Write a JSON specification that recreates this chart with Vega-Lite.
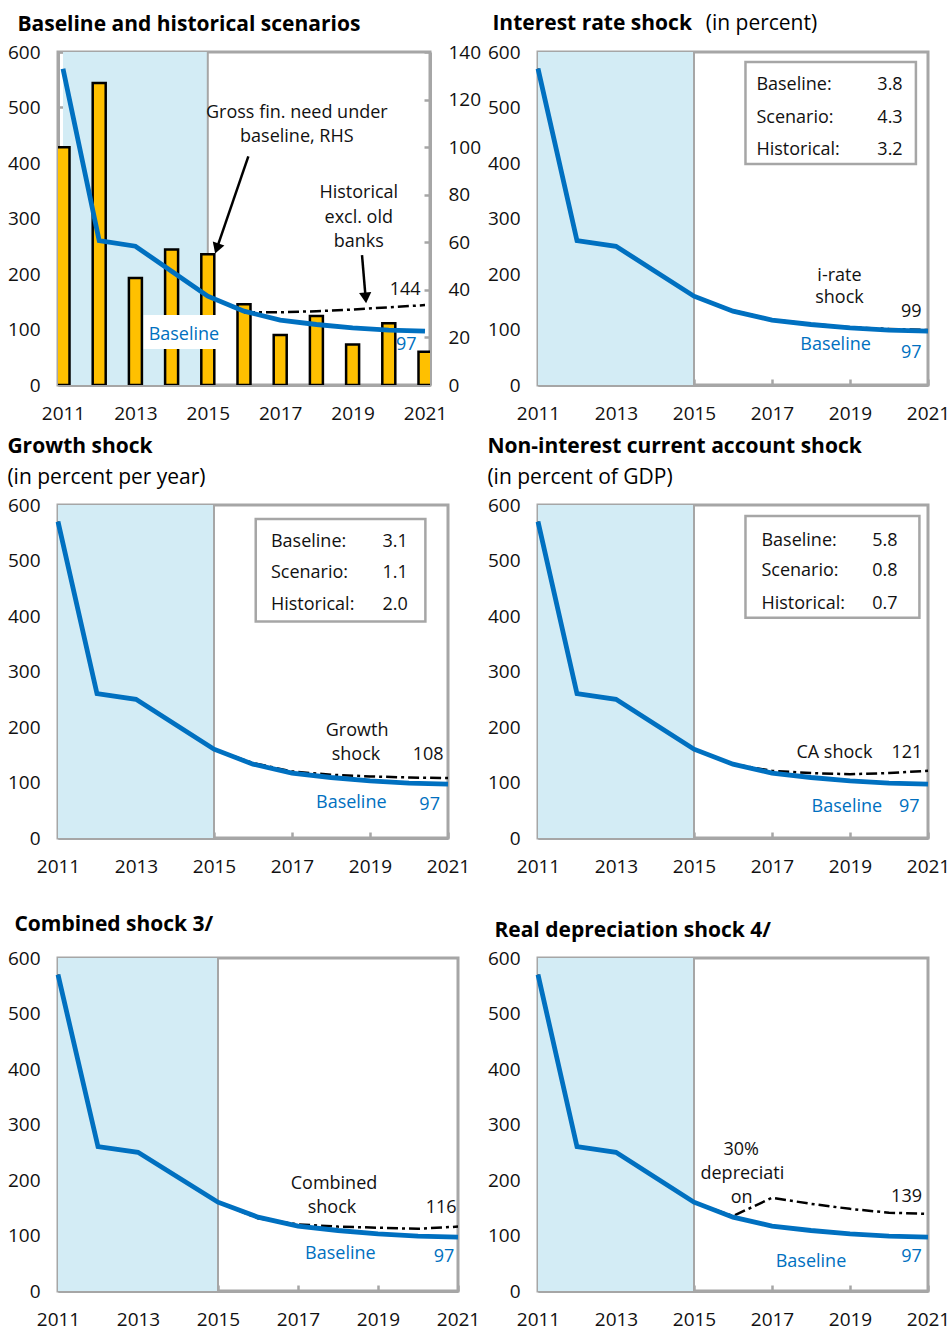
{
  "$schema": "https://vega.github.io/schema/vega-lite/v6.json",
  "background": "white",
  "padding": {"left": 5, "top": 11, "right": 2, "bottom": 5},
  "config": {
    "font": "Open Sans",
    "view": {"stroke": "#A6A6A6", "strokeWidth": 3},
    "axis": {"grid": false, "domain": true, "domainColor": "#A6A6A6", "domainWidth": 3, "tickColor": "#A6A6A6", "tickWidth": 2.5, "tickSize": -6, "labelFontSize": 19, "labelFont": "Open Sans", "labelColor": "#111111", "zindex": 1},
    "axisY": {"labelPadding": 24},
    "axisX": {"labelPadding": 25, "labelFlush": false},
    "title": {"anchor": "start", "frame": "bounds", "font": "Open Sans", "fontSize": 21, "fontWeight": "bold", "color": "#000000", "subtitleFont": "Open Sans", "subtitleFontSize": 21, "subtitleFontWeight": "normal", "subtitleColor": "#000000", "offset": 8},
    "text": {"font": "Open Sans", "fontSize": 18}
  },
  "datasets": {
    "base": [
      {"year": 2011, "value": 570}, {"year": 2012, "value": 260}, {"year": 2013, "value": 250}, {"year": 2014, "value": 205}, {"year": 2015, "value": 160}, {"year": 2016, "value": 133}, {"year": 2017, "value": 117}, {"year": 2018, "value": 109}, {"year": 2019, "value": 103}, {"year": 2020, "value": 99}, {"year": 2021, "value": 97}
    ],
    "gfn": [
      {"year": 2011, "value": 100}, {"year": 2012, "value": 127}, {"year": 2013, "value": 45}, {"year": 2014, "value": 57}, {"year": 2015, "value": 55}, {"year": 2016, "value": 34}, {"year": 2017, "value": 21}, {"year": 2018, "value": 29}, {"year": 2019, "value": 17}, {"year": 2020, "value": 26}, {"year": 2021, "value": 14}
    ],
    "scen": [
      {"panel": "p1", "year": 2016, "value": 131}, {"panel": "p1", "year": 2017, "value": 131}, {"panel": "p1", "year": 2018, "value": 133}, {"panel": "p1", "year": 2019, "value": 136}, {"panel": "p1", "year": 2020, "value": 140}, {"panel": "p1", "year": 2021, "value": 144},
      {"panel": "p2", "year": 2011, "value": 570}, {"panel": "p2", "year": 2012, "value": 260}, {"panel": "p2", "year": 2013, "value": 250}, {"panel": "p2", "year": 2014, "value": 205}, {"panel": "p2", "year": 2015, "value": 160}, {"panel": "p2", "year": 2016, "value": 134}, {"panel": "p2", "year": 2017, "value": 118}, {"panel": "p2", "year": 2018, "value": 110}, {"panel": "p2", "year": 2019, "value": 104}, {"panel": "p2", "year": 2020, "value": 101}, {"panel": "p2", "year": 2021, "value": 99},
      {"panel": "p3", "year": 2011, "value": 570}, {"panel": "p3", "year": 2012, "value": 260}, {"panel": "p3", "year": 2013, "value": 250}, {"panel": "p3", "year": 2014, "value": 205}, {"panel": "p3", "year": 2015, "value": 160}, {"panel": "p3", "year": 2016, "value": 135}, {"panel": "p3", "year": 2017, "value": 120}, {"panel": "p3", "year": 2018, "value": 114}, {"panel": "p3", "year": 2019, "value": 111}, {"panel": "p3", "year": 2020, "value": 109}, {"panel": "p3", "year": 2021, "value": 108},
      {"panel": "p4", "year": 2011, "value": 570}, {"panel": "p4", "year": 2012, "value": 260}, {"panel": "p4", "year": 2013, "value": 250}, {"panel": "p4", "year": 2014, "value": 205}, {"panel": "p4", "year": 2015, "value": 160}, {"panel": "p4", "year": 2016, "value": 133}, {"panel": "p4", "year": 2017, "value": 121}, {"panel": "p4", "year": 2018, "value": 117}, {"panel": "p4", "year": 2019, "value": 115}, {"panel": "p4", "year": 2020, "value": 117}, {"panel": "p4", "year": 2021, "value": 121},
      {"panel": "p5", "year": 2011, "value": 570}, {"panel": "p5", "year": 2012, "value": 260}, {"panel": "p5", "year": 2013, "value": 250}, {"panel": "p5", "year": 2014, "value": 205}, {"panel": "p5", "year": 2015, "value": 160}, {"panel": "p5", "year": 2016, "value": 131}, {"panel": "p5", "year": 2017, "value": 120}, {"panel": "p5", "year": 2018, "value": 116}, {"panel": "p5", "year": 2019, "value": 114}, {"panel": "p5", "year": 2020, "value": 112}, {"panel": "p5", "year": 2021, "value": 116},
      {"panel": "p6", "year": 2011, "value": 570}, {"panel": "p6", "year": 2012, "value": 260}, {"panel": "p6", "year": 2013, "value": 250}, {"panel": "p6", "year": 2014, "value": 205}, {"panel": "p6", "year": 2015, "value": 160}, {"panel": "p6", "year": 2016, "value": 135}, {"panel": "p6", "year": 2017, "value": 168}, {"panel": "p6", "year": 2018, "value": 157}, {"panel": "p6", "year": 2019, "value": 148}, {"panel": "p6", "year": 2020, "value": 141}, {"panel": "p6", "year": 2021, "value": 139}
    ],
    "notes": [
      {"panel": "p1", "year": 2017.46, "value": 490, "label": "Gross fin. need under", "tone": "dark"},
      {"panel": "p1", "year": 2017.46, "value": 447, "label": "baseline, RHS", "tone": "dark"},
      {"panel": "p1", "year": 2019.17, "value": 346, "label": "Historical", "tone": "dark"},
      {"panel": "p1", "year": 2019.17, "value": 301, "label": "excl. old", "tone": "dark"},
      {"panel": "p1", "year": 2019.17, "value": 258, "label": "banks", "tone": "dark"},
      {"panel": "p1", "year": 2020.45, "value": 171, "label": "144", "tone": "dark"},
      {"panel": "p1", "year": 2014.34, "value": 90, "label": "Baseline", "tone": "blue"},
      {"panel": "p1", "year": 2020.48, "value": 72, "label": "97", "tone": "blue"},
      {"panel": "p2", "year": 2018.73, "value": 197, "label": "i-rate", "tone": "dark"},
      {"panel": "p2", "year": 2018.73, "value": 156, "label": "shock", "tone": "dark"},
      {"panel": "p2", "year": 2020.57, "value": 131, "label": "99", "tone": "dark"},
      {"panel": "p2", "year": 2018.63, "value": 72, "label": "Baseline", "tone": "blue"},
      {"panel": "p2", "year": 2020.57, "value": 58, "label": "97", "tone": "blue"},
      {"panel": "p3", "year": 2018.67, "value": 193, "label": "Growth", "tone": "dark"},
      {"panel": "p3", "year": 2018.64, "value": 150, "label": "shock", "tone": "dark"},
      {"panel": "p3", "year": 2020.49, "value": 150, "label": "108", "tone": "dark"},
      {"panel": "p3", "year": 2018.52, "value": 63, "label": "Baseline", "tone": "blue"},
      {"panel": "p3", "year": 2020.53, "value": 59, "label": "97", "tone": "blue"},
      {"panel": "p4", "year": 2018.6, "value": 153, "label": "CA shock", "tone": "dark"},
      {"panel": "p4", "year": 2020.46, "value": 153, "label": "121", "tone": "dark"},
      {"panel": "p4", "year": 2018.92, "value": 56, "label": "Baseline", "tone": "blue"},
      {"panel": "p4", "year": 2020.52, "value": 56, "label": "97", "tone": "blue"},
      {"panel": "p5", "year": 2017.9, "value": 193, "label": "Combined", "tone": "dark"},
      {"panel": "p5", "year": 2017.85, "value": 149, "label": "shock", "tone": "dark"},
      {"panel": "p5", "year": 2020.58, "value": 149, "label": "116", "tone": "dark"},
      {"panel": "p5", "year": 2018.06, "value": 66, "label": "Baseline", "tone": "blue"},
      {"panel": "p5", "year": 2020.65, "value": 61, "label": "97", "tone": "blue"},
      {"panel": "p6", "year": 2016.21, "value": 254, "label": "30%", "tone": "dark"},
      {"panel": "p6", "year": 2016.24, "value": 211, "label": "depreciati", "tone": "dark"},
      {"panel": "p6", "year": 2016.22, "value": 167, "label": "on", "tone": "dark"},
      {"panel": "p6", "year": 2020.45, "value": 170, "label": "139", "tone": "dark"},
      {"panel": "p6", "year": 2018.0, "value": 53, "label": "Baseline", "tone": "blue"},
      {"panel": "p6", "year": 2020.58, "value": 61, "label": "97", "tone": "blue"}
    ],
    "boxtext": [
      {"panel": "p2", "side": "label", "year": 2016.6, "value": 540, "label": "Baseline:"},
      {"panel": "p2", "side": "label", "year": 2016.6, "value": 481, "label": "Scenario:"},
      {"panel": "p2", "side": "label", "year": 2016.6, "value": 424, "label": "Historical:"},
      {"panel": "p2", "side": "value", "year": 2020.35, "value": 540, "label": "3.8"},
      {"panel": "p2", "side": "value", "year": 2020.35, "value": 481, "label": "4.3"},
      {"panel": "p2", "side": "value", "year": 2020.35, "value": 424, "label": "3.2"},
      {"panel": "p3", "side": "label", "year": 2016.46, "value": 533, "label": "Baseline:"},
      {"panel": "p3", "side": "label", "year": 2016.46, "value": 477, "label": "Scenario:"},
      {"panel": "p3", "side": "label", "year": 2016.46, "value": 420, "label": "Historical:"},
      {"panel": "p3", "side": "value", "year": 2019.97, "value": 533, "label": "3.1"},
      {"panel": "p3", "side": "value", "year": 2019.97, "value": 477, "label": "1.1"},
      {"panel": "p3", "side": "value", "year": 2019.97, "value": 420, "label": "2.0"},
      {"panel": "p4", "side": "label", "year": 2016.73, "value": 536, "label": "Baseline:"},
      {"panel": "p4", "side": "label", "year": 2016.73, "value": 481, "label": "Scenario:"},
      {"panel": "p4", "side": "label", "year": 2016.73, "value": 421, "label": "Historical:"},
      {"panel": "p4", "side": "value", "year": 2020.22, "value": 536, "label": "5.8"},
      {"panel": "p4", "side": "value", "year": 2020.22, "value": 481, "label": "0.8"},
      {"panel": "p4", "side": "value", "year": 2020.22, "value": 421, "label": "0.7"}
    ],
    "headnote": [
      {"panel": "p2", "year": 2015.3, "value": 650, "label": "(in percent)"}
    ],
    "frames": [
      {"panel": "p1", "year": 2013.23, "year2": 2015.28, "value": 65, "value2": 126},
      {"panel": "p2", "year": 2016.32, "year2": 2020.69, "value": 398, "value2": 582},
      {"panel": "p3", "year": 2016.07, "year2": 2020.42, "value": 390, "value2": 575},
      {"panel": "p4", "year": 2016.32, "year2": 2020.78, "value": 397, "value2": 580}
    ],
    "arrows": [
      {"year": 2016.12, "value": 412, "year2": 2015.25, "value2": 246, "angle": 19},
      {"year": 2019.26, "value": 234, "year2": 2019.36, "value2": 157, "angle": -5}
    ]
  },
  "hconcat": [
    {
      "vconcat": [
        {
          "width": 372, "height": 333,
          "title": {"text": "Baseline and historical scenarios", "dx": 10},
          "layer": [
            {
              "layer": [
                {"data": {"values": [{}]}, "mark": {"type": "rect", "color": "#D3ECF5"}, "encoding": {"x": {"datum": 2011, "type": "quantitative", "scale": {"domain": [2011, 2021], "nice": false, "zero": false}, "axis": {"title": null, "values": [2011, 2012, 2013, 2014, 2015, 2016, 2017, 2018, 2019, 2020, 2021], "format": "d", "labelExpr": "datum.value % 2 == 1 ? datum.label : ''"}}, "x2": {"datum": 2015}}},
                {"data": {"values": [{}]}, "mark": {"type": "rule", "color": "#A6A6A6", "strokeWidth": 2}, "encoding": {"x": {"datum": 2015, "type": "quantitative"}}},
                {"data": {"name": "gfn"}, "mark": {"type": "bar", "color": "#FFC000", "stroke": "#000000", "strokeWidth": 2.5, "size": 13, "clip": true}, "encoding": {"x": {"field": "year", "type": "quantitative"}, "y": {"field": "value", "type": "quantitative", "scale": {"domain": [0, 140], "nice": false}, "axis": {"title": null, "orient": "right", "values": [0, 20, 40, 60, 80, 100, 120, 140]}}}}
              ]
            },
            {
              "layer": [
                {"data": {"name": "frames"}, "transform": [{"filter": "datum.panel == 'p1'"}], "mark": {"type": "rect", "color": "#FFFFFF"}, "encoding": {"x": {"field": "year", "type": "quantitative"}, "x2": {"field": "year2"}, "y": {"field": "value", "type": "quantitative", "scale": {"domain": [0, 600], "nice": false}, "axis": {"title": null, "values": [0, 100, 200, 300, 400, 500, 600]}}, "y2": {"field": "value2"}}},
                {"data": {"name": "scen"}, "transform": [{"filter": "datum.panel == 'p1'"}], "mark": {"type": "line", "color": "#000000", "strokeWidth": 2.5, "strokeDash": [11, 4, 3, 4]}, "encoding": {"x": {"field": "year", "type": "quantitative"}, "y": {"field": "value", "type": "quantitative"}}},
                {"data": {"name": "base"}, "mark": {"type": "line", "color": "#0070C0", "strokeWidth": 4.8}, "encoding": {"x": {"field": "year", "type": "quantitative"}, "y": {"field": "value", "type": "quantitative"}}},
                {"data": {"name": "notes"}, "transform": [{"filter": "datum.panel == 'p1'"}], "mark": {"type": "text", "align": "center", "baseline": "middle", "fontSize": 18}, "encoding": {"x": {"field": "year", "type": "quantitative"}, "y": {"field": "value", "type": "quantitative"}, "text": {"field": "label"}, "color": {"field": "tone", "type": "nominal", "scale": {"domain": ["dark", "blue"], "range": ["#111111", "#0070C0"]}, "legend": null}}},
                {"data": {"name": "arrows"}, "mark": {"type": "rule", "color": "#000000", "strokeWidth": 2.5}, "encoding": {"x": {"field": "year", "type": "quantitative"}, "y": {"field": "value", "type": "quantitative"}, "x2": {"field": "year2"}, "y2": {"field": "value2"}}},
                {"data": {"name": "arrows"}, "mark": {"type": "point", "shape": "triangle-down", "filled": true, "color": "#000000", "size": 150, "opacity": 1}, "encoding": {"x": {"field": "year2", "type": "quantitative"}, "y": {"field": "value2", "type": "quantitative"}, "angle": {"field": "angle", "type": "quantitative", "scale": null}}}
              ]
            }
          ],
          "resolve": {"scale": {"y": "independent"}}
        },
        {
          "width": 390, "height": 333,
          "title": {"text": "Growth shock", "subtitle": "(in percent per year)", "subtitlePadding": 10},
          "layer": [
            {"data": {"values": [{}]}, "mark": {"type": "rect", "color": "#D3ECF5"}, "encoding": {"x": {"datum": 2011, "type": "quantitative", "scale": {"domain": [2011, 2021], "nice": false, "zero": false}, "axis": {"title": null, "values": [2011, 2013, 2015, 2017, 2019, 2021], "format": "d"}}, "x2": {"datum": 2015}}},
            {"data": {"values": [{}]}, "mark": {"type": "rule", "color": "#A6A6A6", "strokeWidth": 2}, "encoding": {"x": {"datum": 2015, "type": "quantitative"}}},
            {"data": {"name": "frames"}, "transform": [{"filter": "datum.panel == 'p3'"}], "mark": {"type": "rect", "fill": "#FFFFFF", "stroke": "#A6A6A6", "strokeWidth": 2.5}, "encoding": {"x": {"field": "year", "type": "quantitative"}, "x2": {"field": "year2"}, "y": {"field": "value", "type": "quantitative", "scale": {"domain": [0, 600], "nice": false}, "axis": {"title": null, "values": [0, 100, 200, 300, 400, 500, 600]}}, "y2": {"field": "value2"}}},
            {"data": {"name": "scen"}, "transform": [{"filter": "datum.panel == 'p3'"}], "mark": {"type": "line", "color": "#000000", "strokeWidth": 2.5, "strokeDash": [11, 4, 3, 4]}, "encoding": {"x": {"field": "year", "type": "quantitative"}, "y": {"field": "value", "type": "quantitative"}}},
            {"data": {"name": "base"}, "mark": {"type": "line", "color": "#0070C0", "strokeWidth": 4.8}, "encoding": {"x": {"field": "year", "type": "quantitative"}, "y": {"field": "value", "type": "quantitative"}}},
            {"data": {"name": "notes"}, "transform": [{"filter": "datum.panel == 'p3'"}], "mark": {"type": "text", "align": "center", "baseline": "middle", "fontSize": 18}, "encoding": {"x": {"field": "year", "type": "quantitative"}, "y": {"field": "value", "type": "quantitative"}, "text": {"field": "label"}, "color": {"field": "tone", "type": "nominal", "scale": {"domain": ["dark", "blue"], "range": ["#111111", "#0070C0"]}, "legend": null}}},
            {"data": {"name": "boxtext"}, "transform": [{"filter": "datum.panel == 'p3' && datum.side == 'label'"}], "mark": {"type": "text", "align": "left", "baseline": "middle", "fontSize": 18, "color": "#111111"}, "encoding": {"x": {"field": "year", "type": "quantitative"}, "y": {"field": "value", "type": "quantitative"}, "text": {"field": "label"}}},
            {"data": {"name": "boxtext"}, "transform": [{"filter": "datum.panel == 'p3' && datum.side == 'value'"}], "mark": {"type": "text", "align": "right", "baseline": "middle", "fontSize": 18, "color": "#111111"}, "encoding": {"x": {"field": "year", "type": "quantitative"}, "y": {"field": "value", "type": "quantitative"}, "text": {"field": "label"}}}
          ]
        },
        {
          "width": 400, "height": 333,
          "title": {"text": "Combined shock 3/", "dx": 7, "offset": 14},
          "layer": [
            {"data": {"values": [{}]}, "mark": {"type": "rect", "color": "#D3ECF5"}, "encoding": {"x": {"datum": 2011, "type": "quantitative", "scale": {"domain": [2011, 2021], "nice": false, "zero": false}, "axis": {"title": null, "values": [2011, 2013, 2015, 2017, 2019, 2021], "format": "d"}}, "x2": {"datum": 2015}}},
            {"data": {"values": [{}]}, "mark": {"type": "rule", "color": "#A6A6A6", "strokeWidth": 2}, "encoding": {"x": {"datum": 2015, "type": "quantitative"}}},
            {"data": {"name": "scen"}, "transform": [{"filter": "datum.panel == 'p5'"}], "mark": {"type": "line", "color": "#000000", "strokeWidth": 2.5, "strokeDash": [11, 4, 3, 4]}, "encoding": {"x": {"field": "year", "type": "quantitative"}, "y": {"field": "value", "type": "quantitative", "scale": {"domain": [0, 600], "nice": false}, "axis": {"title": null, "values": [0, 100, 200, 300, 400, 500, 600]}}}},
            {"data": {"name": "base"}, "mark": {"type": "line", "color": "#0070C0", "strokeWidth": 4.8}, "encoding": {"x": {"field": "year", "type": "quantitative"}, "y": {"field": "value", "type": "quantitative"}}},
            {"data": {"name": "notes"}, "transform": [{"filter": "datum.panel == 'p5'"}], "mark": {"type": "text", "align": "center", "baseline": "middle", "fontSize": 18}, "encoding": {"x": {"field": "year", "type": "quantitative"}, "y": {"field": "value", "type": "quantitative"}, "text": {"field": "label"}, "color": {"field": "tone", "type": "nominal", "scale": {"domain": ["dark", "blue"], "range": ["#111111", "#0070C0"]}, "legend": null}}}
          ]
        }
      ],
      "spacing": 120,
      "bounds": "flush"
    },
    {
      "vconcat": [
        {
          "width": 390, "height": 333,
          "title": {"text": "Interest rate shock", "dx": 5, "offset": -21},
          "layer": [
            {"data": {"values": [{}]}, "mark": {"type": "rect", "color": "#D3ECF5"}, "encoding": {"x": {"datum": 2011, "type": "quantitative", "scale": {"domain": [2011, 2021], "nice": false, "zero": false}, "axis": {"title": null, "values": [2011, 2013, 2015, 2017, 2019, 2021], "format": "d"}}, "x2": {"datum": 2015}}},
            {"data": {"values": [{}]}, "mark": {"type": "rule", "color": "#A6A6A6", "strokeWidth": 2}, "encoding": {"x": {"datum": 2015, "type": "quantitative"}}},
            {"data": {"name": "frames"}, "transform": [{"filter": "datum.panel == 'p2'"}], "mark": {"type": "rect", "fill": "#FFFFFF", "stroke": "#A6A6A6", "strokeWidth": 2.5}, "encoding": {"x": {"field": "year", "type": "quantitative"}, "x2": {"field": "year2"}, "y": {"field": "value", "type": "quantitative", "scale": {"domain": [0, 600], "nice": false}, "axis": {"title": null, "values": [0, 100, 200, 300, 400, 500, 600]}}, "y2": {"field": "value2"}}},
            {"data": {"name": "scen"}, "transform": [{"filter": "datum.panel == 'p2'"}], "mark": {"type": "line", "color": "#000000", "strokeWidth": 2.5, "strokeDash": [11, 4, 3, 4]}, "encoding": {"x": {"field": "year", "type": "quantitative"}, "y": {"field": "value", "type": "quantitative"}}},
            {"data": {"name": "base"}, "mark": {"type": "line", "color": "#0070C0", "strokeWidth": 4.8}, "encoding": {"x": {"field": "year", "type": "quantitative"}, "y": {"field": "value", "type": "quantitative"}}},
            {"data": {"name": "notes"}, "transform": [{"filter": "datum.panel == 'p2'"}], "mark": {"type": "text", "align": "center", "baseline": "middle", "fontSize": 18}, "encoding": {"x": {"field": "year", "type": "quantitative"}, "y": {"field": "value", "type": "quantitative"}, "text": {"field": "label"}, "color": {"field": "tone", "type": "nominal", "scale": {"domain": ["dark", "blue"], "range": ["#111111", "#0070C0"]}, "legend": null}}},
            {"data": {"name": "boxtext"}, "transform": [{"filter": "datum.panel == 'p2' && datum.side == 'label'"}], "mark": {"type": "text", "align": "left", "baseline": "middle", "fontSize": 18, "color": "#111111"}, "encoding": {"x": {"field": "year", "type": "quantitative"}, "y": {"field": "value", "type": "quantitative"}, "text": {"field": "label"}}},
            {"data": {"name": "boxtext"}, "transform": [{"filter": "datum.panel == 'p2' && datum.side == 'value'"}], "mark": {"type": "text", "align": "right", "baseline": "middle", "fontSize": 18, "color": "#111111"}, "encoding": {"x": {"field": "year", "type": "quantitative"}, "y": {"field": "value", "type": "quantitative"}, "text": {"field": "label"}}},
            {"data": {"name": "headnote"}, "mark": {"type": "text", "align": "left", "baseline": "middle", "fontSize": 21, "color": "#000000"}, "encoding": {"x": {"field": "year", "type": "quantitative"}, "y": {"field": "value", "type": "quantitative"}, "text": {"field": "label"}}}
          ]
        },
        {
          "width": 390, "height": 333,
          "title": {"text": "Non-interest current account shock", "subtitle": "(in percent of GDP)", "subtitlePadding": 10},
          "layer": [
            {"data": {"values": [{}]}, "mark": {"type": "rect", "color": "#D3ECF5"}, "encoding": {"x": {"datum": 2011, "type": "quantitative", "scale": {"domain": [2011, 2021], "nice": false, "zero": false}, "axis": {"title": null, "values": [2011, 2013, 2015, 2017, 2019, 2021], "format": "d"}}, "x2": {"datum": 2015}}},
            {"data": {"values": [{}]}, "mark": {"type": "rule", "color": "#A6A6A6", "strokeWidth": 2}, "encoding": {"x": {"datum": 2015, "type": "quantitative"}}},
            {"data": {"name": "frames"}, "transform": [{"filter": "datum.panel == 'p4'"}], "mark": {"type": "rect", "fill": "#FFFFFF", "stroke": "#A6A6A6", "strokeWidth": 2.5}, "encoding": {"x": {"field": "year", "type": "quantitative"}, "x2": {"field": "year2"}, "y": {"field": "value", "type": "quantitative", "scale": {"domain": [0, 600], "nice": false}, "axis": {"title": null, "values": [0, 100, 200, 300, 400, 500, 600]}}, "y2": {"field": "value2"}}},
            {"data": {"name": "scen"}, "transform": [{"filter": "datum.panel == 'p4'"}], "mark": {"type": "line", "color": "#000000", "strokeWidth": 2.5, "strokeDash": [11, 4, 3, 4]}, "encoding": {"x": {"field": "year", "type": "quantitative"}, "y": {"field": "value", "type": "quantitative"}}},
            {"data": {"name": "base"}, "mark": {"type": "line", "color": "#0070C0", "strokeWidth": 4.8}, "encoding": {"x": {"field": "year", "type": "quantitative"}, "y": {"field": "value", "type": "quantitative"}}},
            {"data": {"name": "notes"}, "transform": [{"filter": "datum.panel == 'p4'"}], "mark": {"type": "text", "align": "center", "baseline": "middle", "fontSize": 18}, "encoding": {"x": {"field": "year", "type": "quantitative"}, "y": {"field": "value", "type": "quantitative"}, "text": {"field": "label"}, "color": {"field": "tone", "type": "nominal", "scale": {"domain": ["dark", "blue"], "range": ["#111111", "#0070C0"]}, "legend": null}}},
            {"data": {"name": "boxtext"}, "transform": [{"filter": "datum.panel == 'p4' && datum.side == 'label'"}], "mark": {"type": "text", "align": "left", "baseline": "middle", "fontSize": 18, "color": "#111111"}, "encoding": {"x": {"field": "year", "type": "quantitative"}, "y": {"field": "value", "type": "quantitative"}, "text": {"field": "label"}}},
            {"data": {"name": "boxtext"}, "transform": [{"filter": "datum.panel == 'p4' && datum.side == 'value'"}], "mark": {"type": "text", "align": "right", "baseline": "middle", "fontSize": 18, "color": "#111111"}, "encoding": {"x": {"field": "year", "type": "quantitative"}, "y": {"field": "value", "type": "quantitative"}, "text": {"field": "label"}}}
          ]
        },
        {
          "width": 390, "height": 333,
          "title": {"text": "Real depreciation shock 4/", "dx": 7},
          "layer": [
            {"data": {"values": [{}]}, "mark": {"type": "rect", "color": "#D3ECF5"}, "encoding": {"x": {"datum": 2011, "type": "quantitative", "scale": {"domain": [2011, 2021], "nice": false, "zero": false}, "axis": {"title": null, "values": [2011, 2013, 2015, 2017, 2019, 2021], "format": "d"}}, "x2": {"datum": 2015}}},
            {"data": {"values": [{}]}, "mark": {"type": "rule", "color": "#A6A6A6", "strokeWidth": 2}, "encoding": {"x": {"datum": 2015, "type": "quantitative"}}},
            {"data": {"name": "scen"}, "transform": [{"filter": "datum.panel == 'p6'"}], "mark": {"type": "line", "color": "#000000", "strokeWidth": 2.5, "strokeDash": [11, 4, 3, 4]}, "encoding": {"x": {"field": "year", "type": "quantitative"}, "y": {"field": "value", "type": "quantitative", "scale": {"domain": [0, 600], "nice": false}, "axis": {"title": null, "values": [0, 100, 200, 300, 400, 500, 600]}}}},
            {"data": {"name": "base"}, "mark": {"type": "line", "color": "#0070C0", "strokeWidth": 4.8}, "encoding": {"x": {"field": "year", "type": "quantitative"}, "y": {"field": "value", "type": "quantitative"}}},
            {"data": {"name": "notes"}, "transform": [{"filter": "datum.panel == 'p6'"}], "mark": {"type": "text", "align": "center", "baseline": "middle", "fontSize": 18}, "encoding": {"x": {"field": "year", "type": "quantitative"}, "y": {"field": "value", "type": "quantitative"}, "text": {"field": "label"}, "color": {"field": "tone", "type": "nominal", "scale": {"domain": ["dark", "blue"], "range": ["#111111", "#0070C0"]}, "legend": null}}}
          ]
        }
      ],
      "spacing": 120,
      "bounds": "flush"
    }
  ],
  "spacing": 2
}
